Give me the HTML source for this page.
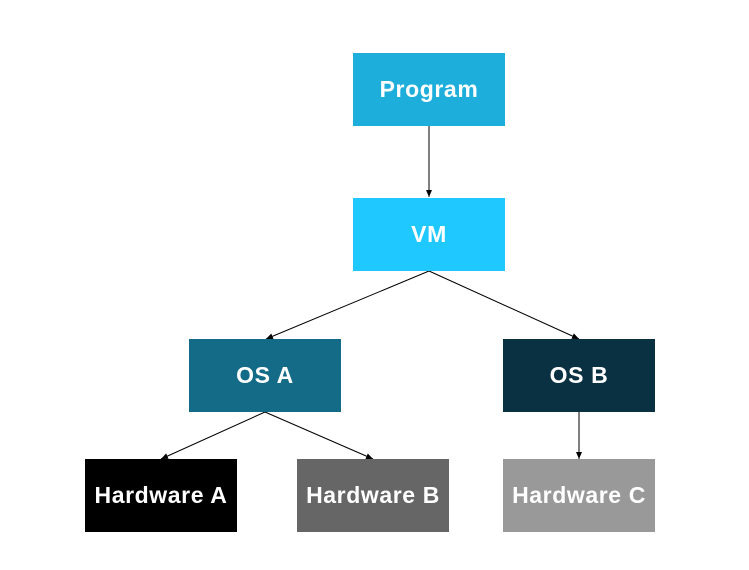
<!DOCTYPE html>
<html><head><style>
body{margin:0;width:749px;height:570px;background:#fff;position:relative;overflow:hidden;font-family:"Liberation Sans",sans-serif}
.b{position:absolute;display:flex;align-items:center;justify-content:center;color:#fff;font-weight:bold;font-size:23px;letter-spacing:0.6px;width:152px;height:73px}
svg{position:absolute;left:0;top:0}
</style></head><body>
<svg width="749" height="570">
<defs><marker id="a" markerWidth="8" markerHeight="8" refX="7" refY="4" orient="auto" markerUnits="userSpaceOnUse"><path d="M0,1 L7,4 L0,7z" fill="#000"/></marker></defs>
<g stroke="#000" stroke-width="1" marker-end="url(#a)">
<line x1="429" y1="126" x2="429" y2="197"/>
<line x1="429" y1="271" x2="266" y2="339"/>
<line x1="429" y1="271" x2="579" y2="339"/>
<line x1="265" y1="412" x2="161" y2="459"/>
<line x1="265" y1="412" x2="373" y2="459"/>
<line x1="579" y1="412" x2="579" y2="459"/>
</g></svg>
<div class="b" style="left:353px;top:53px;background:#1eaedb">Program</div>
<div class="b" style="left:353px;top:198px;background:#1fc8ff">VM</div>
<div class="b" style="left:189px;top:339px;background:#136b87">OS A</div>
<div class="b" style="left:503px;top:339px;background:#0a3142">OS B</div>
<div class="b" style="left:85px;top:459px;background:#000">Hardware A</div>
<div class="b" style="left:297px;top:459px;background:#666">Hardware B</div>
<div class="b" style="left:503px;top:459px;background:#999">Hardware C</div>
</body></html>
